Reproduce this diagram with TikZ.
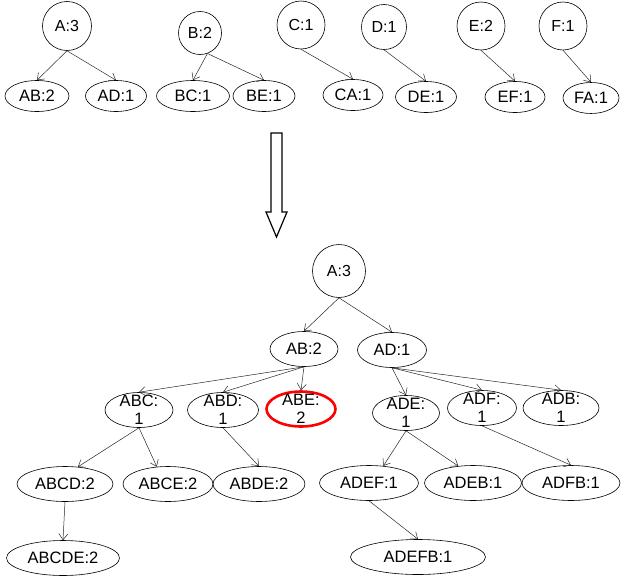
\documentclass[tikz,border=0pt]{standalone}
\usepackage{fontspec}
\setmainfont{Liberation Sans}
\usetikzlibrary{shapes.geometric,arrows.meta}
\newcommand\twoline[2]{\smash{\raisebox{-6pt}{\begin{tabular}{@{}c@{}}#1\\#2\end{tabular}}}}
\tikzset{
  circ/.style={circle,draw,line width=0.6pt,inner sep=0pt,minimum size=#1,font=\fontsize{16}{18}\selectfont},
  elt/.style={ellipse,draw,line width=0.6pt,inner sep=0pt,minimum height=31,minimum width=#1,font=\fontsize{16.5}{18}\selectfont},
  elb/.style={ellipse,draw,line width=0.6pt,inner sep=0pt,minimum height=35,minimum width=#1,font=\fontsize{16.5}{18}\selectfont},
  redel/.style={elb=#1,draw=red,line width=2.6pt},
  edge/.style={draw=black!85,line width=0.5pt,-{Straight Barb[length=6pt,width=9pt,line width=0.5pt]}},
  bigarrow/.style={draw,line width=1.2pt,fill=white}
}
\begin{document}
\begin{tikzpicture}[x=1pt,y=-1pt]
\useasboundingbox (0,0) rectangle (621,581);
% top row
\node[circ=49] (A) at (67,26) {A:3};
\node[elt=64] (AB) at (37,96) {AB:2};
\node[elt=61] (AD) at (116,96) {AD:1};
\node[circ=43] (B) at (200,33) {B:2};
\node[elt=73] (BC) at (193,96) {BC:1};
\node[elt=62] (BE) at (264,96) {BE:1};
\node[circ=48] (C) at (301,25) {C:1};
\node[elt=60] (CA) at (353,95) {CA:1};
\node[circ=45] (D) at (384,27) {D:1};
\node[elt=61] (DE) at (426,97) {DE:1};
\node[circ=48] (E) at (481,26) {E:2};
\node[elt=60] (EF) at (515,97) {EF:1};
\node[circ=48] (F) at (563,26) {F:1};
\node[elt=56] (FA) at (591,98) {FA:1};
\draw[edge] (A.south) -- (AB.north);
\draw[edge] (A.south) -- (AD.north);
\draw[edge] (B.-70) -- (BC.north);
\draw[edge] (B.-70) -- (BE.north);
\draw[edge] (C.south) -- (CA.north);
\draw[edge] (D.south) -- (DE.north);
\draw[edge] (E.south) -- (EF.north);
\draw[edge] (F.south) -- (FA.north);
% big arrow
\draw[bigarrow] (271,133) -- (282,133) -- (282,212) -- (287,212) -- (276.5,237) -- (266,212) -- (271,212) -- cycle;
% bottom tree
\node[circ=53] (R) at (339,271) {A:3};
\node[elb=68] (RAB) at (304,349) {AB:2};
\node[elb=69] (RAD) at (392,350) {AD:1};
\node[elb=68] (ABC) at (139,410) {\twoline{ABC:}{1}};
\node[elb=71] (ABD) at (223,410) {\twoline{ABD:}{1}};
\node[redel=69] (ABE) at (301,409) {\twoline{ABE:}{2}};
\node[elb=67] (ADE) at (406,413) {\twoline{ADE:}{1}};
\node[elb=69] (ADF) at (482,408) {\twoline{ADF:}{1}};
\node[elb=76] (ADB) at (561,408) {\twoline{ADB:}{1}};
\node[elb=96] (ABCD) at (65,484) {ABCD:2};
\node[elb=90] (ABCE) at (168,484) {ABCE:2};
\node[elb=92] (ABDE) at (259,484) {ABDE:2};
\node[elb=99] (ADEF) at (369,483) {ADEF:1};
\node[elb=97] (ADEB) at (473,483) {ADEB:1};
\node[elb=98] (ADFB) at (571,483) {ADFB:1};
\node[elb=113] (ABCDE) at (63,558) {ABCDE:2};
\node[elb=135] (ADEFB) at (418,557) {ADEFB:1};
\draw[edge] (R.south) -- (RAB.north);
\draw[edge] (R.south) -- (RAD.north);
\draw[edge] (RAB.south) -- (ABC.north);
\draw[edge] (RAB.south) -- (ABD.north);
\draw[edge] (RAB.south) -- (ABE.north);
\draw[edge] (RAD.south) -- (ADE.north);
\draw[edge] (RAD.south) -- (ADF.north);
\draw[edge] (RAD.south) -- (ADB.north);
\draw[edge] (ABC.south) -- (ABCD.53);
\draw[edge] (ABC.south) -- (ABCE.123);
\draw[edge] (ABD.south) -- (ABDE.north);
\draw[edge] (ADE.south) -- (ADEF.50);
\draw[edge] (ADE.south) -- (ADEB.131);
\draw[edge] (ADF.south) -- (ADFB.north);
\draw[edge] (ABCD.south) -- (ABCDE.north);
\draw[edge] (ADEF.south) -- (ADEFB.north);
\end{tikzpicture}
\end{document}
